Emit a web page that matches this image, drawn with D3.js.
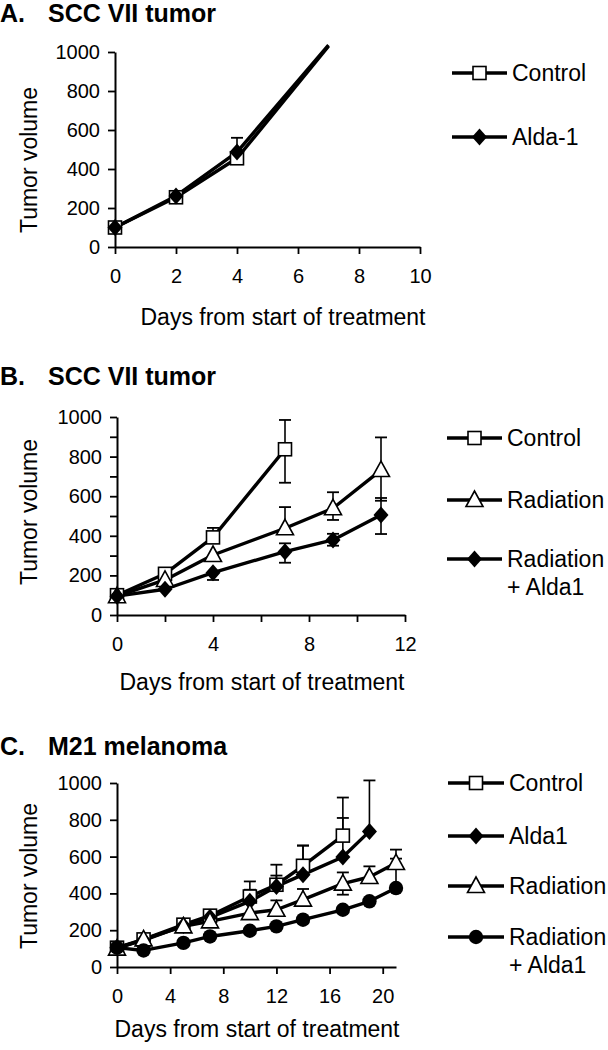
<!DOCTYPE html>
<html><head><meta charset="utf-8">
<script src="https://cdn.jsdelivr.net/npm/d3@7"></script>
<style>
body{margin:0;background:#fff}
svg{display:block}
text{font-family:"Liberation Sans",Arial,sans-serif;fill:#000}
</style>
</head><body>
<svg id="c" width="608" height="1050"></svg>
<script>
// ---------- DATA ----------
// Panel A: SCC VII tumor
const titleA = ["A.", "SCC VII tumor"];
const daysA = [0, 2, 4, 7];
const aControl = [100, 255, 455, 1030];
const aAlda = [100, 262, 487, 1035];
const aAldaHi = [null, null, 560, null];
const legendA = ["Control", "Alda-1"];
const xTicksA = [0, 2, 4, 6, 8, 10];
const yTicksA = [0, 200, 400, 600, 800, 1000];

// Panel B: SCC VII tumor
const titleB = ["B.", "SCC VII tumor"];
const daysBControl = [0, 2, 4, 7];
const bControl = [100, 208, 392, 837];
const bControlHi = [null, null, 440, 985];
const bControlLo = [null, null, null, 668];
const daysB = [0, 2, 4, 7, 9, 11];
const bRad = [95, 177, 303, 438, 539, 732];
const bRadHi = [null, null, null, 545, 620, 897];
const bRadLo = [null, null, null, null, 480, 577];
const bRadAlda = [95, 130, 214, 320, 379, 505];
const bRadAldaHi = [null, null, null, 362, 410, 591];
const bRadAldaLo = [null, null, 177, 264, 350, 409];
const legendB = ["Control", "Radiation", ["Radiation", "+ Alda1"]];
const xTicksB = [0, 2, 4, 6, 8, 10, 12];
const xLabelsB = [0, 4, 8, 12];
const yTicksB = [0, 200, 400, 600, 800, 1000];
const yMinorB = [100, 300, 500, 700, 900];

// Panel C: M21 melanoma
const titleC = ["C.", "M21 melanoma"];
const daysC = [0, 2, 5, 7, 10, 12, 14, 17, 19, 21];
const cControl = [105, 150, 230, 279, 383, 447, 550, 714];
const cControlHi = [null, null, null, null, 465, 556, 660, 921];
const cAlda = [105, 145, 225, 270, 357, 438, 502, 598, 737];
const cAldaHi = [null, null, null, null, 420, 497, 660, 810, 1014];
const cRad = [100, 150, 221, 248, 293, 311, 366, 453, 489, 565];
const cRadHi = [null, null, null, null, null, 362, 424, 514, 547, 638];
const cRadLo = [null, null, null, null, null, null, null, 393, null, null];
const cRadAlda = [105, 90, 131, 166, 197, 221, 257, 311, 357, 429];
const cRadAldaHi = [null, null, null, null, null, null, null, null, null, 589];
const legendC = ["Control", "Alda1", "Radiation", ["Radiation", "+ Alda1"]];
const xTicksC = [0, 4, 8, 12, 16, 20];
const yTicksC = [0, 200, 400, 600, 800, 1000];

const yLabel = "Tumor volume";
const xLabel = "Days from start of treatment";

// ---------- DRAW ----------
const svg = d3.select("#c");

function series(days, values, hi, lo, marker) {
  return values.map((v, i) => ({d: days[i], v, hi: hi ? hi[i] : null, lo: lo ? lo[i] : null, marker}));
}

function drawMarker(g, type, cx, cy) {
  if (type === "square") {
    g.append("rect").attr("x", cx - 6.5).attr("y", cy - 6.5).attr("width", 13).attr("height", 13)
      .attr("fill", "#fff").attr("stroke", "#000").attr("stroke-width", 1.6);
  } else if (type === "diamond") {
    g.append("path").attr("d", `M${cx},${cy-8.5}L${cx+7.5},${cy}L${cx},${cy+8.5}L${cx-7.5},${cy}Z`)
      .attr("fill", "#000");
  } else if (type === "triangle") {
    g.append("path").attr("d", `M${cx},${cy-9}L${cx+8.5},${cy+6.5}L${cx-8.5},${cy+6.5}Z`)
      .attr("fill", "#fff").attr("stroke", "#000").attr("stroke-width", 1.6);
  } else if (type === "circle") {
    g.append("circle").attr("cx", cx).attr("cy", cy).attr("r", 7.2).attr("fill", "#000");
  }
}

function panel(cfg) {
  const g = svg.append("g");
  const x = d3.scaleLinear().domain(cfg.xDomain).range([cfg.left, cfg.right]);
  const y = d3.scaleLinear().domain([0, 1000]).range([cfg.bottom, cfg.top]);

  // title
  g.append("text").attr("x", 0).attr("y", cfg.titleY).attr("font-size", 25).attr("font-weight", "bold").text(cfg.title[0]);
  g.append("text").attr("x", 48).attr("y", cfg.titleY).attr("font-size", 25).attr("font-weight", "bold").text(cfg.title[1]);

  // y axis
  g.append("g").attr("transform", `translate(${cfg.left},0)`)
    .call(d3.axisLeft(y).tickValues(cfg.yTicks).tickSize(7).tickSizeOuter(0).tickPadding(8).tickFormat(d3.format("d")));
  if (cfg.yMinor) {
    g.append("g").attr("transform", `translate(${cfg.left},0)`)
      .call(d3.axisLeft(y).tickValues(cfg.yMinor).tickSize(7).tickSizeOuter(0).tickFormat(""))
      .select(".domain").remove();
  }
  // x axis
  g.append("g").attr("transform", `translate(0,${cfg.bottom})`)
    .call(d3.axisBottom(x).tickValues(cfg.xTicks).tickSize(7).tickSizeOuter(0).tickPadding(15)
      .tickFormat(d => (cfg.xLabels ? (cfg.xLabels.includes(d) ? d : "") : d)));
  g.selectAll(".domain").attr("stroke-width", 2);
  g.selectAll(".tick line").attr("stroke-width", 1.8);
  g.selectAll(".tick text").attr("font-size", 20).attr("font-family", '"Liberation Sans",Arial,sans-serif');

  // axis labels
  g.append("text").attr("transform", `translate(37,${cfg.yLabelY}) rotate(-90)`)
    .attr("text-anchor", "middle").attr("font-size", 23).text(yLabel);
  g.append("text").attr("x", cfg.xLabelX).attr("y", cfg.xLabelY)
    .attr("text-anchor", "middle").attr("font-size", 23).text(xLabel);

  // series lines
  const line = d3.line().x(p => x(p.d)).y(p => y(p.v));
  cfg.series.forEach(s => {
    g.append("path").attr("d", line(s)).attr("fill", "none").attr("stroke", "#000")
      .attr("stroke-width", 3.4).attr("stroke-linejoin", "round");
  });
  // error bars
  cfg.series.forEach(s => {
    s.forEach(p => {
      [p.hi, p.lo].forEach(e => {
        if (e == null) return;
        g.append("line").attr("x1", x(p.d)).attr("x2", x(p.d)).attr("y1", y(p.v)).attr("y2", y(e))
          .attr("stroke", "#000").attr("stroke-width", 1.6);
        g.append("line").attr("x1", x(p.d) - 6).attr("x2", x(p.d) + 6).attr("y1", y(e)).attr("y2", y(e))
          .attr("stroke", "#000").attr("stroke-width", 1.8);
      });
    });
  });
  // markers
  cfg.series.forEach(s => {
    s.forEach(p => { if (p.v <= 1000) drawMarker(g, p.marker, x(p.d), y(p.v)); });
  });

  // legend
  cfg.legend.forEach((lab, i) => {
    const ly = cfg.legendY[i];
    g.append("line").attr("x1", cfg.lx1).attr("x2", cfg.lx2).attr("y1", ly).attr("y2", ly)
      .attr("stroke", "#000").attr("stroke-width", 3.6);
    drawMarker(g, cfg.legendMarkers[i], (cfg.lx1 + cfg.lx2) / 2, ly);
    const t = g.append("text").attr("x", cfg.lx2 + 5).attr("y", ly + 8).attr("font-size", 23);
    if (Array.isArray(lab)) {
      lab.forEach((l, j) => t.append("tspan").attr("x", cfg.lx2 + 5).attr("dy", j === 0 ? 0 : 28).text(l));
    } else t.text(lab);
  });
}

panel({
  title: titleA, titleY: 22,
  xDomain: [0, 10], left: 115, right: 420, top: 52, bottom: 247,
  xTicks: xTicksA, yTicks: yTicksA,
  yLabelY: 160, xLabelX: 283, xLabelY: 325,
  series: [series(daysA, aControl, null, null, "square"), series(daysA, aAlda, aAldaHi, null, "diamond")],
  legend: legendA, legendMarkers: ["square", "diamond"], legendY: [73, 137], lx1: 452, lx2: 507
});

panel({
  title: titleB, titleY: 385,
  xDomain: [0, 12], left: 117, right: 405, top: 417, bottom: 615,
  xTicks: xTicksB, xLabels: xLabelsB, yTicks: yTicksB, yMinor: yMinorB,
  yLabelY: 512, xLabelX: 262, xLabelY: 690,
  series: [series(daysBControl, bControl, bControlHi, bControlLo, "square"),
           series(daysB, bRad, bRadHi, bRadLo, "triangle"),
           series(daysB, bRadAlda, bRadAldaHi, bRadAldaLo, "diamond")],
  legend: legendB, legendMarkers: ["square", "triangle", "diamond"], legendY: [438, 500, 559], lx1: 447, lx2: 502
});

panel({
  title: titleC, titleY: 755,
  xDomain: [0, 21], left: 117, right: 396, top: 783, bottom: 967,
  xTicks: xTicksC, yTicks: yTicksC,
  yLabelY: 876, xLabelX: 257, xLabelY: 1037,
  series: [series(daysC, cControl, cControlHi, null, "square"),
           series(daysC, cAlda, cAldaHi, null, "diamond"),
           series(daysC, cRad, cRadHi, cRadLo, "triangle"),
           series(daysC, cRadAlda, cRadAldaHi, null, "circle")],
  legend: legendC, legendMarkers: ["square", "diamond", "triangle", "circle"], legendY: [783, 836, 886, 937], lx1: 448, lx2: 504
});
</script>
</body></html>
